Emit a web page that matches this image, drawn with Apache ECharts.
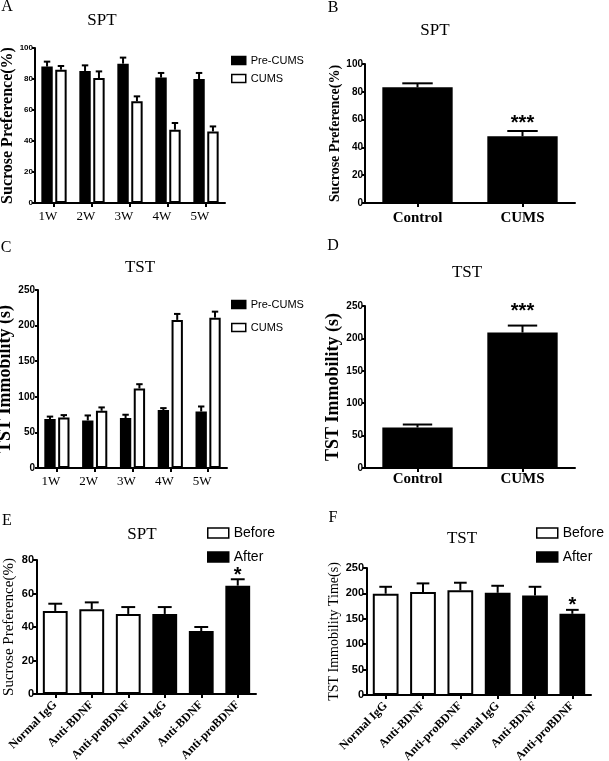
<!DOCTYPE html>
<html><head><meta charset="utf-8">
<script src="https://cdn.jsdelivr.net/npm/echarts@6/dist/echarts.min.js"></script>
<style>html,body{margin:0;padding:0;background:#fff}#c{width:609px;height:761px}</style>
</head><body><div id="c"></div>
<script>
// ---- data ----
const weeks = ['1W', '2W', '3W', '4W', '5W'];
const sptPre = [88, 85.2, 89.9, 80.9, 80];
const sptPreErr = [3.2, 3.6, 3.9, 3, 3.9];
const sptCums = [86, 80.6, 65.6, 47.3, 46.2];
const sptCumsErr = [2.4, 4.3, 3.2, 4.3, 3.2];

const groups = ['Control', 'CUMS'];
const sptGroup = [83.2, 48];
const sptGroupErr = [2.9, 3.8];
const sptGroupSig = ['', '***'];

const tstPre = [68.7, 66.8, 70.1, 81.3, 79.4];
const tstPreErr = [3.5, 7, 4.7, 2.8, 7];
const tstCums = [71, 80.4, 111.7, 208, 211.2];
const tstCumsErr = [3.3, 4.7, 6, 8.4, 8.4];

const tstGroup = [62.5, 209];
const tstGroupErr = [4.6, 10.8];
const tstGroupSig = ['', '***'];

const treatments = ['Normal IgG', 'Anti-BDNF', 'Anti-proBDNF'];
const sptBefore = [49.6, 50.6, 47.8];
const sptBeforeErr = [4.3, 4.1, 4.1];
const sptAfter = [47.8, 37.6, 64.7];
const sptAfterErr = [4.1, 2.4, 3.8];
const sptAfterSig = ['', '', '*'];

const tstBefore = [199.4, 202.6, 206];
const tstBeforeErr = [13.6, 17.1, 15];
const tstAfter = [201.2, 196, 159.8];
const tstAfterErr = [13.8, 17, 7.8];
const tstAfterSig = ['', '', '*'];

// ---- chart ----
const serif = '"Liberation Serif","Times New Roman",serif';
const sans = '"Liberation Sans",Arial,sans-serif';
const chart = echarts.init(document.getElementById('c'), null, {renderer: 'canvas'});

const treatLabels = treatments.concat(treatments);
const beforeIdx = treatments.map((_, i) => i);
const afterIdx = treatments.map((_, i) => i + treatments.length);
const dash3 = treatments.map(() => '-');

const axisLine = {show: true, onZero: false, lineStyle: {color: '#000', width: 2}};
function tick(len) { return {show: true, length: len, alignWithLabel: true, lineStyle: {color: '#000', width: 2}}; }

function xAx(gi, data, label) {
  return {type: 'category', gridIndex: gi, data: data, axisLine: axisLine, axisTick: tick(4),
    splitLine: {show: false},
    axisLabel: Object.assign({color: '#000', interval: 0, hideOverlap: false}, label)};
}
function yAx(gi, max, interval, name, nameGap, nameStyle, labelSize, tickLen, labelMargin) {
  return {type: 'value', gridIndex: gi, min: 0, max: max, interval: interval,
    name: name, nameLocation: 'middle', nameGap: nameGap, nameRotate: 90,
    nameTruncate: {maxWidth: 400},
    nameTextStyle: Object.assign({color: '#000', fontFamily: serif, overflow: 'none'}, nameStyle),
    axisLine: axisLine, axisTick: tick(tickLen), splitLine: {show: false},
    axisLabel: {color: '#000', fontFamily: sans, fontWeight: 'bold', fontSize: labelSize, margin: labelMargin}};
}
function bar(gi, name, data, fill, width, gap) {
  const s = {type: 'bar', name: name, xAxisIndex: gi, yAxisIndex: gi, data: data, barWidth: width,
    itemStyle: {color: fill, borderColor: '#000', borderWidth: 2}, animation: false, silent: true};
  if (gap) s.barGap = gap;
  return s;
}
function errSeries(gi, idx, vals, errs, opt) {
  return {
    type: 'custom', name: 'err', xAxisIndex: gi, yAxisIndex: gi, z: 5, silent: true, animation: false,
    data: vals.map((v, i) => [idx[i], v, errs[i]]),
    renderItem: function (params, api) {
      const c = api.value(0), v = api.value(1), e = api.value(2);
      const band = api.size([1, 0])[0];
      const p0 = api.coord([c, v]), p1 = api.coord([c, v + e]);
      const cx = p0[0] + (opt.offset || 0) * band;
      const half = opt.cap * band / 2;
      const ch = [
        {type: 'line', shape: {x1: cx, y1: p0[1], x2: cx, y2: p1[1]}, style: {stroke: '#000', lineWidth: 2}},
        {type: 'line', shape: {x1: cx - half, y1: p1[1], x2: cx + half, y2: p1[1]}, style: {stroke: '#000', lineWidth: 2}}
      ];
      const s = opt.sig ? opt.sig[params.dataIndex] : '';
      if (s) ch.push({type: 'text', x: cx, y: p1[1] - opt.sigGap,
        style: {text: s, fill: '#000', font: 'bold ' + opt.sigSize + 'px ' + sans, align: 'center', verticalAlign: 'middle'}});
      return {type: 'group', children: ch};
    }
  };
}
function txt(t, x, y, size, weight) {
  return {type: 'text', x: x, y: y, silent: true,
    style: {text: t, fill: '#000', font: (weight || 'normal') + ' ' + size + 'px ' + serif, align: 'center', verticalAlign: 'middle'}};
}
const legendBase = {orient: 'vertical', icon: 'rect', padding: 0, selectedMode: false,
  itemStyle: {borderWidth: 1.5, borderColor: '#000'}};

const GW = 0.30, GG = 0.22; // grouped bar width / gap fractions
const off = (GW + GW * GG) / 2;

const option = {
  animation: false,
  backgroundColor: '#fff',
  grid: [
    {left: 35, top: 48, width: 190, height: 155, outerBoundsMode: 'none'},
    {left: 365, top: 64, width: 210, height: 139, outerBoundsMode: 'none'},
    {left: 38, top: 290, width: 189, height: 178, outerBoundsMode: 'none'},
    {left: 365, top: 306, width: 210, height: 162, outerBoundsMode: 'none'},
    {left: 37, top: 560, width: 219, height: 134, outerBoundsMode: 'none'},
    {left: 367, top: 568, width: 224, height: 127, outerBoundsMode: 'none'}
  ],
  xAxis: [
    xAx(0, weeks, {fontFamily: serif, fontSize: 13, margin: 7, padding: [0, 12, 0, 0]}),
    xAx(1, groups, {fontFamily: serif, fontWeight: 'bold', fontSize: 15, margin: 8}),
    xAx(2, weeks, {fontFamily: serif, fontSize: 13, margin: 7, padding: [0, 12, 0, 0]}),
    xAx(3, groups, {fontFamily: serif, fontWeight: 'bold', fontSize: 15, margin: 4}),
    xAx(4, treatLabels, {fontFamily: serif, fontWeight: 'bold', fontSize: 12, margin: 9, rotate: 45}),
    xAx(5, treatLabels, {fontFamily: serif, fontWeight: 'bold', fontSize: 12, margin: 9, rotate: 45})
  ],
  yAxis: [
    yAx(0, 100, 20, 'Sucrose Preference(%)', 18, {fontWeight: 'bold', fontSize: 16}, 8, 3, 2),
    yAx(1, 100, 20, 'Sucrose Preference(%)', 23, {fontWeight: 'bold', fontSize: 14}, 10, 3, 2),
    yAx(2, 250, 50, 'TST Immobility (s)', 20, {fontWeight: 'bold', fontSize: 18}, 10, 3, 3),
    yAx(3, 250, 50, 'TST Immobility (s)', 21, {fontWeight: 'bold', fontSize: 18}, 10, 3, 2),
    yAx(4, 80, 20, 'Sucrose Preference(%)', 20, {fontSize: 15}, 11, 4, 3),
    yAx(5, 250, 50, 'TST Immobility Time(s)', 25, {fontSize: 14}, 11, 4, 3)
  ],
  legend: [
    Object.assign({}, legendBase, {data: ['Pre-CUMS', 'CUMS'], left: 231, top: 55, itemWidth: 14, itemHeight: 8, itemGap: 7, itemTextGap: 6,
      textStyle: {fontFamily: sans, fontSize: 11, color: '#000'}}),
    Object.assign({}, legendBase, {data: ['Pre-CUMS', 'CUMS'], left: 231, top: 299, itemWidth: 14, itemHeight: 8, itemGap: 12, itemTextGap: 6,
      textStyle: {fontFamily: sans, fontSize: 11, color: '#000'}}),
    Object.assign({}, legendBase, {data: ['Before', 'After'], left: 207, top: 526, itemWidth: 21, itemHeight: 10, itemGap: 10, itemTextGap: 9,
      textStyle: {fontFamily: sans, fontSize: 14, color: '#000'}}),
    Object.assign({}, legendBase, {data: ['Before', 'After'], left: 536, top: 526, itemWidth: 21, itemHeight: 10, itemGap: 10, itemTextGap: 9,
      textStyle: {fontFamily: sans, fontSize: 14, color: '#000'}})
  ],
  graphic: [
    txt('A', 7, 7, 16), txt('B', 333, 8, 16), txt('C', 6, 248, 16),
    txt('D', 333, 246, 16), txt('E', 7, 521, 16), txt('F', 333, 518, 16),
    txt('SPT', 102, 21, 17), txt('SPT', 435, 31, 17), txt('TST', 140, 268, 17),
    txt('TST', 467, 273, 17), txt('SPT', 142, 535, 17), txt('TST', 462, 539, 17)
  ],
  series: [
    bar(0, 'Pre-CUMS', sptPre, '#000', (GW * 100) + '%', (GG * 100) + '%'),
    bar(0, 'CUMS', sptCums, '#fff', (GW * 100) + '%', (GG * 100) + '%'),
    errSeries(0, weeks.map((_, i) => i), sptPre, sptPreErr, {offset: -off, cap: 0.17}),
    errSeries(0, weeks.map((_, i) => i), sptCums, sptCumsErr, {offset: off, cap: 0.17}),

    bar(1, 'Control', sptGroup, '#000', '67%'),
    errSeries(1, groups.map((_, i) => i), sptGroup, sptGroupErr, {cap: 0.29, sig: sptGroupSig, sigGap: 8, sigSize: 20}),

    bar(2, 'Pre-CUMS', tstPre, '#000', (GW * 100) + '%', (GG * 100) + '%'),
    bar(2, 'CUMS', tstCums, '#fff', (GW * 100) + '%', (GG * 100) + '%'),
    errSeries(2, weeks.map((_, i) => i), tstPre, tstPreErr, {offset: -off, cap: 0.17}),
    errSeries(2, weeks.map((_, i) => i), tstCums, tstCumsErr, {offset: off, cap: 0.17}),

    bar(3, 'Control', tstGroup, '#000', '67%'),
    errSeries(3, groups.map((_, i) => i), tstGroup, tstGroupErr, {cap: 0.28, sig: tstGroupSig, sigGap: 14, sigSize: 20}),

    bar(4, 'Before', sptBefore.concat(dash3), '#fff', '68%', '-100%'),
    bar(4, 'After', dash3.concat(sptAfter), '#000', '68%', '-100%'),
    errSeries(4, beforeIdx, sptBefore, sptBeforeErr, {cap: 0.38}),
    errSeries(4, afterIdx, sptAfter, sptAfterErr, {cap: 0.38, sig: sptAfterSig, sigGap: 4, sigSize: 20}),

    bar(5, 'Before', tstBefore.concat(dash3), '#fff', '69%', '-100%'),
    bar(5, 'After', dash3.concat(tstAfter), '#000', '69%', '-100%'),
    errSeries(5, beforeIdx, tstBefore, tstBeforeErr, {cap: 0.34}),
    errSeries(5, afterIdx, tstAfter, tstAfterErr, {cap: 0.34, sig: tstAfterSig, sigGap: 4, sigSize: 20})
  ]
};
chart.setOption(option);
</script>
</body></html>
